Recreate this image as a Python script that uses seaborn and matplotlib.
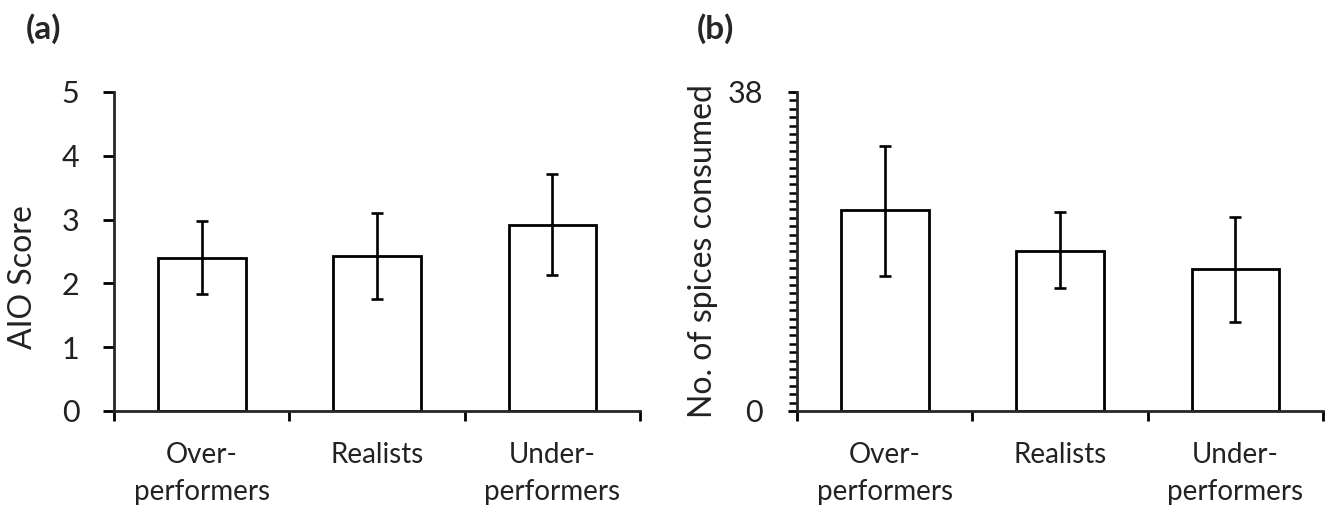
import numpy as np
import pandas as pd
import matplotlib
matplotlib.use("Agg")
import matplotlib.pyplot as plt
import seaborn as sns
from matplotlib.ticker import MultipleLocator, FixedLocator

# ---- data ----
categories = ["Over-\nperformers", "Realists", "Under-\nperformers"]
aio_mean = [2.40, 2.43, 2.92]
aio_low = [1.84, 1.75, 2.13]
aio_high = [2.97, 3.11, 3.71]
spice_mean = [23.9, 19.1, 16.9]
spice_low = [16.1, 14.6, 10.6]
spice_high = [31.6, 23.7, 23.1]

sns.set_theme(style="white")
plt.rcParams["font.family"] = ["Lato", "DejaVu Sans"]
plt.rcParams["axes.linewidth"] = 2.0

fig = plt.figure(figsize=(13.34, 5.08), dpi=100)
ax_a = fig.add_axes([0.0855, 0.191, 0.3943, 0.628])
ax_b = fig.add_axes([0.5975, 0.191, 0.3943, 0.628])

def draw(ax, means, lows, highs, ymax):
    df = pd.DataFrame({"cat": categories, "val": means})
    sns.barplot(data=df, x="cat", y="val", ax=ax, color="white",
                edgecolor="black", linewidth=2.0, width=0.5,
                errorbar=None, saturation=1)
    x = np.arange(len(means))
    m = np.array(means)
    yerr = [m - np.array(lows), np.array(highs) - m]
    ax.errorbar(x, m, yerr=yerr, fmt="none", ecolor="black",
                elinewidth=1.9, capsize=4.5, capthick=1.9)
    ax.set_xlim(-0.5, 2.5)
    ax.set_ylim(0, ymax)
    for s in ["top", "right"]:
        ax.spines[s].set_visible(False)
    ax.spines["left"].set_linewidth(2.0)
    ax.spines["bottom"].set_linewidth(2.0)
    ax.set_xlabel("")
    # category boundary ticks
    ax.xaxis.set_major_locator(FixedLocator([-0.5, 0.5, 1.5, 2.5]))
    ax.xaxis.set_minor_locator(FixedLocator([0, 1, 2]))
    ax.set_xticklabels([""] * 4)
    ax.set_xticklabels(categories, minor=True)
    ax.tick_params(axis="x", which="major", direction="out", length=7.5,
                   width=2.0, bottom=True, color="black")
    ax.tick_params(axis="x", which="minor", length=0, pad=22,
                   labelsize=20, labelcolor="#222222")
    for lbl in ax.get_xticklabels(minor=True):
        lbl.set_linespacing(1.55)

draw(ax_a, aio_mean, aio_low, aio_high, 5)
ax_a.yaxis.set_major_locator(MultipleLocator(1))
ax_a.tick_params(axis="y", which="major", direction="out", length=8,
                 width=2.0, left=True, pad=17, labelsize=22,
                 labelcolor="#222222", color="black")
ax_a.set_ylabel("AIO Score", fontsize=23, color="#222222")
ax_a.yaxis.set_label_coords(-0.173, 0.42)
ax_a.yaxis.label.set_verticalalignment("center")

draw(ax_b, spice_mean, spice_low, spice_high, 38)
ax_b.yaxis.set_major_locator(FixedLocator([0, 38]))
ax_b.yaxis.set_minor_locator(MultipleLocator(1))
ax_b.tick_params(axis="y", which="major", direction="out", length=6.5,
                 width=2.0, left=True, pad=18, labelsize=22,
                 labelcolor="#222222", color="black")
ax_b.tick_params(axis="y", which="minor", direction="out", length=5.5,
                 width=1.8, left=True, color="black")
ax_b.set_ylabel("No. of spices consumed", fontsize=23, color="#222222")
ax_b.yaxis.set_label_coords(-0.179, 0.50)
ax_b.yaxis.label.set_verticalalignment("center")

fig.text(0.019, 0.943, "(a)", fontsize=24, fontweight="bold", va="center", ha="left")
fig.text(0.522, 0.943, "(b)", fontsize=24, fontweight="bold", va="center", ha="left")

fig.savefig("out.png", dpi=100, facecolor="white")
